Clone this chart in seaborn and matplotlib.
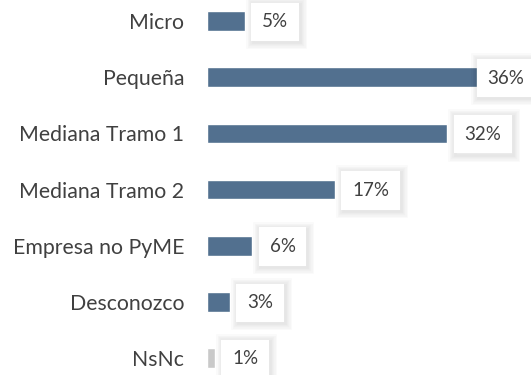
import matplotlib
matplotlib.use("Agg")
import matplotlib.pyplot as plt
import matplotlib.patheffects as pe
import seaborn as sns
import pandas as pd

categories = ["Micro", "Pequeña", "Mediana Tramo 1", "Mediana Tramo 2",
              "Empresa no PyME", "Desconozco", "NsNc"]
values = [5, 36, 32, 17, 6, 3, 1]
bar_colors = ["#52708F"] * 6 + ["#C9C9C9"]

df = pd.DataFrame({"categoria": categories, "porcentaje": values})

sns.set_style("white")
plt.rcParams["font.family"] = ["Lato", "DejaVu Sans"]

fig = plt.figure(figsize=(5.31, 3.75), dpi=100)
ax = fig.add_axes([207 / 531, 0, 1 - 207 / 531, 1])

sns.barplot(data=df, x="porcentaje", y="categoria", hue="categoria",
            palette=bar_colors, orient="h", width=0.35, legend=False,
            saturation=1, ax=ax)

ax.set_xlim(0, 43.2)
ax.set_ylim(6.30, -0.374)
ax.set_xlabel("")
ax.set_ylabel("")
ax.set_xticks([])
sns.despine(ax=ax, left=True, bottom=True)
ax.tick_params(axis="y", length=0, pad=16.5, labelsize=15.3, labelcolor="#404040")

# soft drop shadow for the value boxes
shadow = [pe.Stroke(linewidth=w, foreground="black", alpha=0.018, offset=(0.8, -0.8))
          for w in (10, 8, 6, 4, 2)]

labels = []
for i, v in enumerate(values):
    t = ax.annotate(f"{v}%", xy=(v, i), xytext=(12.7, -0.6),
                    textcoords="offset points", ha="left", va="center",
                    fontsize=13.5, color="#404040",
                    bbox=dict(boxstyle="square,pad=0.57", fc="white", ec="none"))
    t.get_bbox_patch().set_path_effects(shadow + [pe.Normal()])
    labels.append(t)

# keep every value box inside the figure: slide it back toward its bar if needed
fig.canvas.draw()
renderer = fig.canvas.get_renderer()
fig_w = fig.bbox.width
for t in labels:
    ext = t.get_bbox_patch().get_window_extent(renderer)
    over = ext.x1 - (fig_w + 1)
    if over > 0:
        dx, dy = t.xyann
        t.xyann = (max(dx - over * 72 / fig.dpi, 7.5), dy)

fig.savefig("out.png", dpi=100)
